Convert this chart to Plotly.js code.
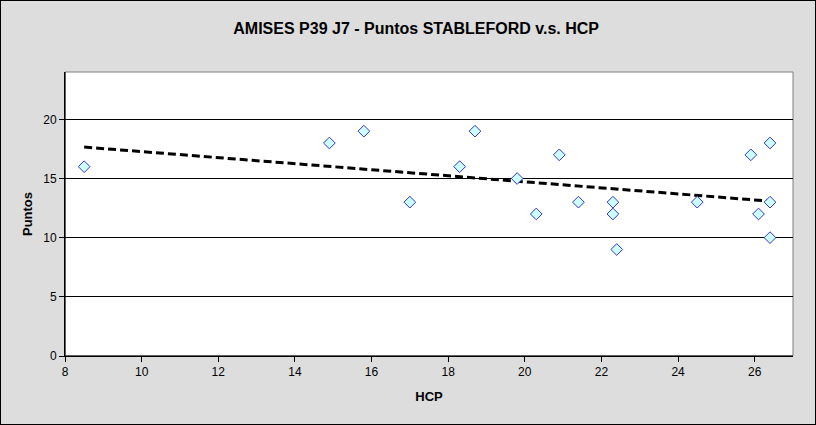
<!DOCTYPE html>
<html>
<head>
<meta charset="utf-8">
<script src="https://cdn.plot.ly/plotly-3.0.1.min.js"></script>
<style>
html,body{margin:0;padding:0;background:#dddddd;}
#chart{width:814px;height:423px;border:1px solid #000;}
</style>
</head>
<body>
<div id="chart"></div>
<script>
// Data
const hcp    = [8.5, 14.9, 15.8, 17.0, 18.3, 18.7, 19.8, 20.3, 20.9, 21.4, 22.3, 22.3, 22.4, 24.5, 25.9, 26.1, 26.4, 26.4, 26.4];
const puntos = [16, 18, 19, 13, 16, 19, 15, 12, 17, 13, 13, 12, 9, 13, 17, 12, 18, 13, 10];
const xTicks = [8, 10, 12, 14, 16, 18, 20, 22, 24, 26];
const yTicks = [0, 5, 10, 15, 20];

// Linear least-squares trendline (as the spreadsheet draws it)
const n = hcp.length;
const mx = hcp.reduce((a, b) => a + b, 0) / n;
const my = puntos.reduce((a, b) => a + b, 0) / n;
let sxy = 0, sxx = 0;
for (let i = 0; i < n; i++) { sxy += (hcp[i] - mx) * (puntos[i] - my); sxx += (hcp[i] - mx) ** 2; }
const slope = sxy / sxx, intercept = my - slope * mx;
const xMin = Math.min(...hcp), xMax = Math.max(...hcp);
const trendX = [xMin, xMax];
const trendY = trendX.map(x => intercept + slope * x);

const font = {family: 'Arial, "Liberation Sans", sans-serif', color: '#000'};

const traces = [
  {
    x: trendX, y: trendY, type: 'scatter', mode: 'lines',
    line: {color: '#000', width: 3, dash: '8px,4px'},
    hoverinfo: 'skip', showlegend: false
  },
  {
    x: hcp, y: puntos, type: 'scatter', mode: 'markers',
    marker: {symbol: 'diamond', size: 9, color: '#ccffff', line: {color: '#3333cc', width: 1}},
    showlegend: false
  }
];

const layout = {
  width: 814, height: 423,
  paper_bgcolor: '#dddddd', plot_bgcolor: '#ffffff',
  margin: {l: 64, r: 22, t: 71, b: 68},
  font: Object.assign({size: 12}, font),
  title: {
    text: '<b>AMISES P39 J7 - Puntos STABLEFORD v.s. HCP</b>',
    font: Object.assign({size: 16}, font),
    x: 0.51, xanchor: 'center', y: 1 - 27.5/423, yanchor: 'middle'
  },
  xaxis: {
    range: [8, 27], tickvals: xTicks, ticktext: xTicks.map(String),
    showgrid: false, zeroline: false,
    showline: true, linecolor: '#000', linewidth: 1,
    ticks: 'outside', ticklen: 5, tickcolor: '#000',
    tickfont: Object.assign({size: 12}, font),
    title: {text: '<b>HCP</b>', font: Object.assign({size: 13}, font), standoff: 13}
  },
  yaxis: {
    range: [0, 24], tickvals: yTicks, ticktext: yTicks.map(String),
    showgrid: true, gridcolor: '#000', gridwidth: 1, zeroline: false,
    showline: true, linecolor: '#000', linewidth: 1,
    ticks: 'outside', ticklen: 5, tickcolor: '#000',
    tickfont: Object.assign({size: 12}, font),
    title: {text: '<b>Puntos</b>', font: Object.assign({size: 13}, font), standoff: 7}
  },
  shapes: [
    {type: 'rect', xref: 'paper', yref: 'paper', x0: 0, x1: 1, y0: 0, y1: 1,
     line: {color: '#808080', width: 1}, layer: 'below'},
    {type: 'line', xref: 'paper', yref: 'paper', x0: 0, x1: 0, y0: 0, y1: 1, line: {color: '#000', width: 1}},
    {type: 'line', xref: 'paper', yref: 'paper', x0: 0, x1: 1, y0: 0, y1: 0, line: {color: '#000', width: 1}}
  ]
};

Plotly.newPlot('chart', traces, layout, {displayModeBar: false, staticPlot: true});
</script>
</body>
</html>
